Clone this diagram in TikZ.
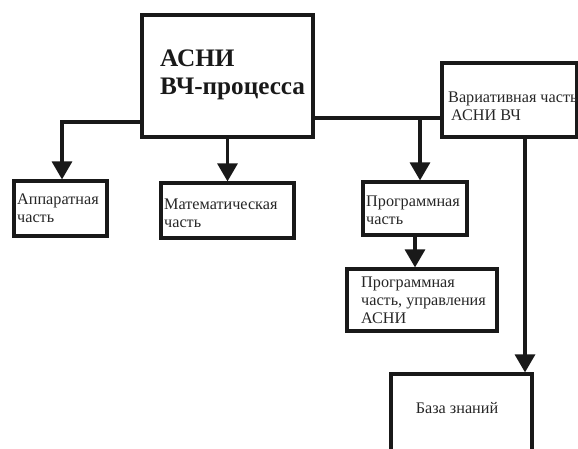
\documentclass[tikz,border=0pt]{standalone}
\usepackage{fontspec}
\setmainfont{Liberation Serif}
\usetikzlibrary{arrows.meta,calc}
\begin{document}
\begin{tikzpicture}[x=1pt,y=-1pt,
  box/.style={draw=black!90,line width=3.2pt,rectangle,inner sep=0pt},
  conn/.style={draw=black!90,line width=3.2pt},
  arr/.style={conn,-{Triangle[length=18pt,width=20pt]}},
  txt/.style={inner sep=0pt,align=left,font=\fontsize{16.2}{18}\selectfont,text=black!85},
  big/.style={inner sep=0pt,align=left,font=\fontsize{25.2}{28}\selectfont\bfseries,text=black!90}]
\useasboundingbox (0,0) rectangle (578,448);
% boxes
\node[box,minimum width=171pt,minimum height=122pt] (main) at (227.5,76) {};
\node[box,minimum width=135pt,minimum height=74pt] (var) at (509.5,100) {};
\node[box,minimum width=93pt,minimum height=55pt] (app) at (60.5,208.5) {};
\node[box,minimum width=133pt,minimum height=55pt] (math) at (227.5,210.5) {};
\node[box,minimum width=104pt,minimum height=53pt] (prog) at (415,208.5) {};
\node[box,minimum width=150pt,minimum height=62pt] (prog2) at (422,300) {};
\node[box,minimum width=141pt,minimum height=90pt] (kb) at (461.5,419) {};
% texts (base anchor = last line)
\node[big,anchor=base west] (tmain) at (160,94) {АСНИ\\ВЧ-процесса};
\node[txt,anchor=base west] (tvar) at (448,120) {Вариативная часть\\\hspace*{3pt}АСНИ ВЧ};
\node[txt,anchor=base west] (tapp) at (17,222) {Аппаратная\\часть};
\node[txt,anchor=base west] (tmath) at (164,227) {Математическая\\часть};
\node[txt,anchor=base west] (tprog) at (366,224) {Программная\\часть};
\node[txt,anchor=base west] (tprog2) at (361,323) {Программная\\часть, управления\\АСНИ};
\node[txt,anchor=base] (tkb) at (457,413) {База знаний};
% junction coordinates
\coordinate (jl) at (62,122);
\coordinate (jr) at (420,118);
\coordinate (jk) at (525,0);
% connectors
\draw[arr] (main.west |- jl) -| (app.north -| jl);
\draw[arr] (main.south) -- (math.north);
\draw[conn] (main.east |- jr) -- (var.west |- jr);
\draw[arr] (jr) -- (prog.north -| jr);
\draw[arr] (prog.south) -- (prog.south |- prog2.north);
\draw[arr] (var.south -| jk) -- (kb.north -| jk);
\end{tikzpicture}
\end{document}
